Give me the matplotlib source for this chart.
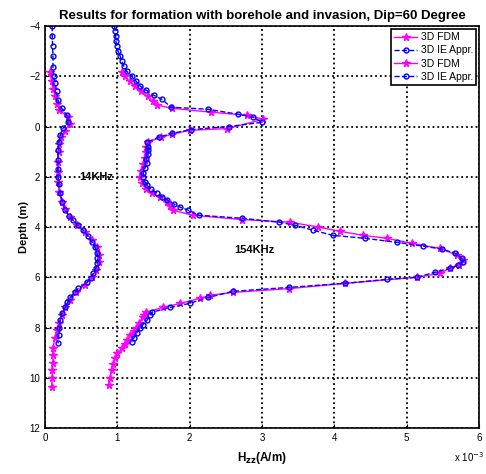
import matplotlib
matplotlib.use('Agg')
import matplotlib.pyplot as plt

plt.rcParams['font.family'] = ['Liberation Sans', 'DejaVu Sans']

# depth (m) and Hzz (x 1e-3 A/m)
ie14_depth = [-4.0, -3.6, -3.2, -2.8, -2.37, -2.0, -1.73, -1.4, -1.05, -0.73, -0.45, -0.17, 0.06, 0.34,
              0.6, 0.94, 1.34, 1.7, 2.0, 2.3, 2.65, 3.0, 3.33, 3.55, 3.73, 3.93, 4.13, 4.35, 4.6, 4.8,
              5.04, 5.25, 5.44, 5.65, 5.84, 6.02, 6.2, 6.44, 6.6, 6.8, 7.0, 7.2, 7.44, 7.71, 8.0, 8.3, 8.63]
ie14_h = [0.10, 0.10, 0.105, 0.11, 0.11, 0.12, 0.14, 0.16, 0.18, 0.23, 0.30, 0.32, 0.25, 0.21,
          0.19, 0.18, 0.18, 0.18, 0.18, 0.19, 0.21, 0.24, 0.28, 0.33, 0.39, 0.46, 0.53, 0.59, 0.65, 0.69,
          0.72, 0.725, 0.72, 0.70, 0.67, 0.63, 0.58, 0.46, 0.41, 0.35, 0.31, 0.28, 0.23, 0.21, 0.20, 0.19, 0.18]

fdm14_depth = [-2.17, -1.8, -1.5, -1.2, -0.9, -0.65, -0.37, -0.1, 0.16, 0.4, 0.7, 1.0, 1.4, 1.8, 2.2,
               2.6, 3.0, 3.3, 3.6, 3.9, 4.2, 4.5, 4.8, 5.1, 5.4, 5.7, 6.0, 6.3, 6.6, 6.9, 7.2, 7.5,
               7.8, 8.1, 8.4, 8.8, 9.1, 9.4, 9.7, 10.0, 10.38]
fdm14_h = [0.07, 0.09, 0.11, 0.14, 0.17, 0.20, 0.32, 0.34, 0.28, 0.22, 0.20, 0.19, 0.18, 0.18, 0.18,
           0.20, 0.23, 0.27, 0.35, 0.44, 0.55, 0.65, 0.72, 0.75, 0.74, 0.71, 0.65, 0.55, 0.43, 0.34, 0.28, 0.24,
           0.20, 0.17, 0.14, 0.11, 0.11, 0.11, 0.10, 0.10, 0.09]

ie154_depth = [-4.0, -3.8, -3.6, -3.4, -3.2, -3.0, -2.8, -2.6, -2.4, -2.2, -2.0, -1.8, -1.6, -1.45,
               -1.25, -1.08, -0.77, -0.69, -0.49, -0.37, -0.17, 0.0, 0.12, 0.27, 0.42, 0.62, 0.8, 0.94,
               1.1, 1.3, 1.46, 1.65, 1.85, 2.02, 2.2, 2.33, 2.5, 2.65, 2.8, 2.93, 3.08, 3.21, 3.33, 3.53,
               3.65, 3.81, 3.93, 4.13, 4.33, 4.45, 4.61, 4.76, 4.88, 5.04, 5.24, 5.4, 5.52, 5.64, 5.8,
               6.0, 6.08, 6.24, 6.4, 6.56, 6.8, 7.04, 7.2, 7.39, 7.5, 7.71, 7.9, 8.03, 8.2, 8.4, 8.59]
ie154_h = [0.96, 0.97, 0.975, 0.98, 0.99, 1.01, 1.04, 1.06, 1.09, 1.13, 1.20, 1.26, 1.32, 1.40,
           1.50, 1.62, 1.74, 2.25, 2.67, 2.88, 3.00, 2.54, 2.02, 1.76, 1.58, 1.41, 1.42, 1.43,
           1.42, 1.40, 1.41, 1.38, 1.36, 1.36, 1.38, 1.41, 1.47, 1.55, 1.62, 1.69, 1.78, 1.87, 1.98, 2.13,
           2.72, 3.24, 3.46, 3.71, 3.98, 4.43, 4.87, 5.23, 5.49, 5.67, 5.76, 5.78, 5.71, 5.60, 5.39,
           5.14, 4.73, 4.15, 3.38, 2.60, 2.26, 2.00, 1.73, 1.48, 1.45, 1.41, 1.35, 1.31, 1.27, 1.23, 1.20]

fdm154_depth = [-2.17, -2.0, -1.8, -1.6, -1.4, -1.2, -1.0, -0.85, -0.73, -0.57, -0.45, -0.29, 0.08, 0.15,
                0.3, 0.43, 0.62, 0.8, 1.0, 1.26, 1.5, 1.75, 2.0, 2.25, 2.5, 2.65, 2.8, 3.0, 3.15, 3.33,
                3.53, 3.7, 3.81, 4.0, 4.17, 4.33, 4.45, 4.65, 4.85, 5.12, 5.32, 5.5, 5.64, 5.84, 6.0,
                6.24, 6.45, 6.6, 6.72, 6.84, 7.04, 7.2, 7.39, 7.5, 7.6, 7.8, 8.0, 8.15, 8.3, 8.5, 8.65, 8.8,
                9.03, 9.2, 9.45, 9.7, 10.0, 10.3]
fdm154_h = [1.06, 1.10, 1.17, 1.25, 1.33, 1.42, 1.49, 1.55, 1.75, 2.30, 2.79, 3.02, 2.52, 2.00,
            1.76, 1.60, 1.42, 1.40, 1.39, 1.38, 1.36, 1.33, 1.32, 1.34, 1.40, 1.48, 1.59, 1.68, 1.73, 1.77,
            2.04, 2.72, 3.39, 3.78, 4.08, 4.40, 4.73, 5.07, 5.46, 5.70, 5.78, 5.72, 5.60, 5.46, 5.14,
            4.15, 3.38, 2.60, 2.28, 2.14, 1.87, 1.63, 1.40, 1.37, 1.35, 1.30, 1.26, 1.23, 1.18, 1.14, 1.11, 1.07,
            1.00, 0.97, 0.94, 0.92, 0.90, 0.88]

fig = plt.figure(figsize=(4.86, 4.74), dpi=100)
ax = fig.add_axes([0.0926, 0.097, 0.893, 0.848])

ax.plot(fdm14_h, fdm14_depth, '-', color='magenta', marker='*', ms=5.5, lw=1, label='3D FDM')
ax.plot(ie14_h, ie14_depth, '--', color='blue', marker='o', ms=3.5, mfc='none', mew=1, lw=1,
        label='3D IE Appr.')
ax.plot(fdm154_h, fdm154_depth, '-', color='magenta', marker='*', ms=5.5, lw=1, label='3D FDM')
ax.plot(ie154_h, ie154_depth, '--', color='blue', marker='o', ms=3.5, mfc='none', mew=1, lw=1,
        label='3D IE Appr.')

ax.set_xlim(0, 6)
ax.set_ylim(12, -4)
ax.set_xticks(range(0, 7))
ax.set_yticks(range(-4, 13, 2))
ax.grid(True, color='black', linestyle=':', linewidth=1.3)
ax.tick_params(direction='in', labelsize=7, length=3)
for s in ax.spines.values():
    s.set_linewidth(1.2)

ax.set_title('Results for formation with borehole and invasion, Dip=60 Degree',
             fontsize=9.5, fontweight='bold', pad=5)
ax.set_ylabel('Depth (m)', fontsize=8, fontweight='bold', labelpad=0)
ax.set_xlabel('H$_{\\mathbf{zz}}$(A/m)', fontsize=8.5, fontweight='bold', labelpad=5)
fig.text(0.935, 0.025, 'x 10$^{-3}$', fontsize=7)

ax.text(0.47, 2.0, '14KHz', fontsize=8, fontweight='bold', va='center')
ax.text(2.62, 4.9, '154KHz', fontsize=8, fontweight='bold', va='center')

leg = ax.legend(loc='upper right', fontsize=7.5, fancybox=False, edgecolor='black',
                framealpha=1, borderpad=0.3, labelspacing=0.3, handlelength=2.2,
                handletextpad=0.3, borderaxespad=0.3)
leg.get_frame().set_linewidth(1.2)

fig.savefig('out.png', dpi=100)
